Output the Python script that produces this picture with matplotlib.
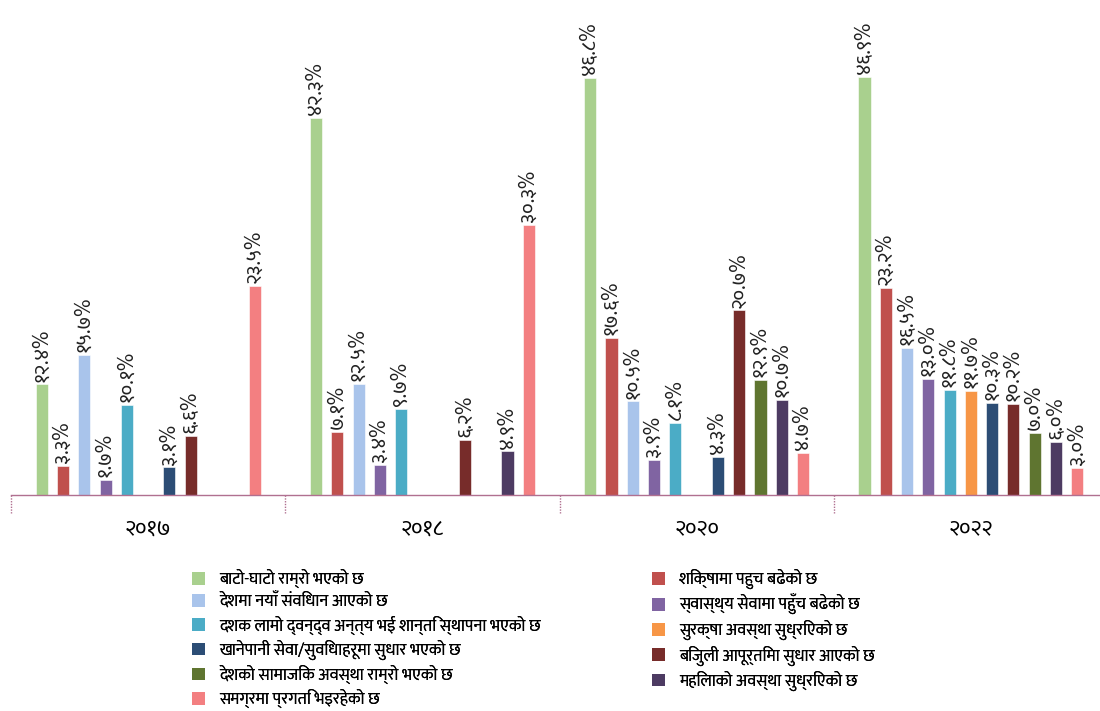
import os
import numpy as np
import matplotlib
matplotlib.use("Agg")
import matplotlib.pyplot as plt
from matplotlib import font_manager
from matplotlib.patches import Patch
import matplotlib.transforms as mtransforms

# Devanagari font (google fonts folder)
GF = "/usr/share/fonts/truetype/google-fonts/"
families = []
for fname, fam in [("Mukta-Regular.ttf", "Mukta"), ("Khand-Regular.ttf", "Khand"),
                   ("Sarala-Regular.ttf", "Sarala")]:
    if os.path.exists(GF + fname):
        font_manager.fontManager.addfont(GF + fname)
        families.append(fam)
plt.rcParams['font.family'] = families[:1] + ['DejaVu Sans']

years = ["२०१७", "२०१८", "२०२०", "२०२२"]

series = [
    "बाटो-घाटो राम्रो भएको छ",
    "शिक्षामा पहुच बढेको छ",
    "देशमा नयाँ संविधान आएको छ",
    "स्वास्थ्य सेवामा पहुँच बढेको छ",
    "दशक लामो द्वन्द्व अन्त्य भई शान्ति स्थापना भएको छ",
    "सुरक्षा अवस्था सुध्रिएको छ",
    "खानेपानी सेवा/सुविधाहरूमा सुधार भएको छ",
    "बिजुली आपूर्तिमा सुधार आएको छ",
    "देशको सामाजिक अवस्था राम्रो भएको छ",
    "महिलाको अवस्था सुध्रिएको छ",
    "समग्रमा प्रगति भइरहेको छ",
]

colors = ["#A9D08E", "#C0504D", "#A9C4EB", "#8064A2", "#4BACC6", "#F79646",
          "#2C4D75", "#772C2A", "#5F7530", "#4D3B62", "#F37F81"]

# values per year, None = not asked that year
v2017 = [12.4, 3.3, 15.7, 1.7, 10.1, None, 3.1, 6.6, None, None, 23.5]
v2018 = [42.3, 7.1, 12.5, 3.4, 9.7, None, None, 6.2, None, 4.9, 30.3]
v2020 = [46.8, 17.6, 10.5, 3.9, 8.1, None, 4.3, 20.7, 12.9, 10.7, 4.7]
v2022 = [46.9, 23.2, 16.5, 13.0, 11.8, 11.7, 10.3, 10.2, 7.0, 6.0, 3.0]
values = [v2017, v2018, v2020, v2022]

DEV = str.maketrans("0123456789", "०१२३४५६७८९")


def dev_label(v):
    return ("%.1f%%" % v).translate(DEV)


fig = plt.figure(figsize=(11, 7.11), dpi=100)
ax = fig.add_axes([0.010, 0.3038, 0.9973, 0.682])

slot = 0.0776
width = 0.044
x = np.arange(len(years))

for i, (name, col) in enumerate(zip(series, colors)):
    off = (i - 5) * slot
    for g in range(len(years)):
        v = values[g][i]
        if v is None:
            continue
        ax.bar(x[g] + off, v, width=width, color=col, edgecolor="white", linewidth=0.4)
        ax.annotate(dev_label(v), (x[g] + off, v), xytext=(0, 2),
                    textcoords="offset points", rotation=90,
                    ha="center", va="bottom", fontsize=15, color="#222222")

ax.set_xlim(-0.5, 3.5)
ax.set_ylim(0, 54.4)
ax.set_yticks([])
ax.set_xticks(x)
ax.set_xticklabels(years, fontsize=16)
ax.tick_params(axis="x", length=0, pad=17)
for s in ["top", "right", "left"]:
    ax.spines[s].set_visible(False)
ax.spines["bottom"].set_color("#B07090")
ax.spines["bottom"].set_linestyle((0, (1, 1)))
ax.spines["bottom"].set_linewidth(1.0)

# dotted group separators below the axis
trans = mtransforms.blended_transform_factory(ax.transData, ax.transAxes)
for b in np.arange(-0.5, len(years), 1.0):
    ax.plot([b, b], [0, -0.037], transform=trans, clip_on=False,
            color="#B07090", ls=(0, (1, 1)), lw=1.0)

handles = [Patch(facecolor=c, edgecolor="none") for c in colors]
left = [0, 2, 4, 6, 8, 10]
right = [1, 3, 5, 7, 9]
for idx, xpos in [(left, 192 / 1100), (right, 652 / 1100)]:
    leg = fig.legend([handles[k] for k in idx], [series[k] for k in idx],
                     loc="upper left", bbox_to_anchor=(xpos, 1 - 569 / 711),
                     frameon=False, fontsize=12, handlelength=0.8, handleheight=0.8,
                     handletextpad=0.8, labelspacing=0.3, borderaxespad=0,
                     borderpad=0)
    fig.add_artist(leg)

fig.savefig("out.png", dpi=100)
